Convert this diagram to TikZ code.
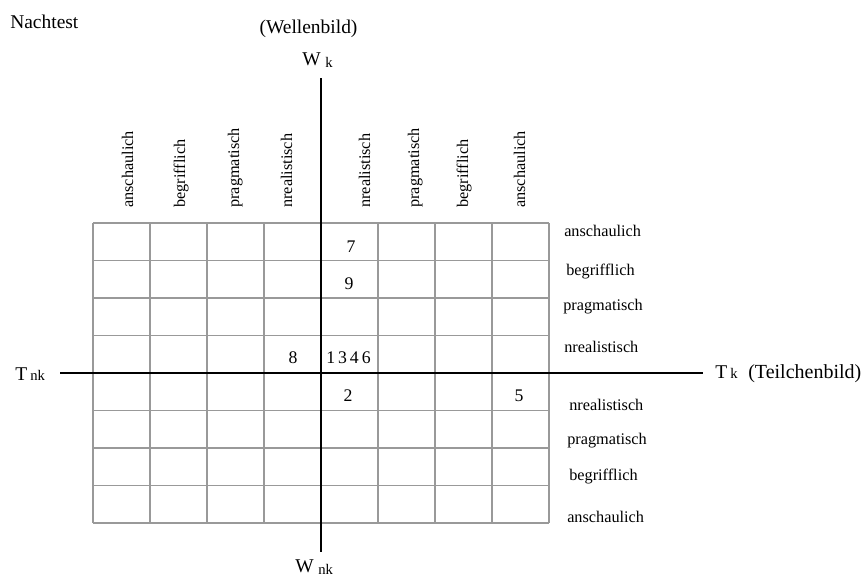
\documentclass[tikz,border=0pt]{standalone}
\usepackage{fontspec}
\setmainfont{Liberation Serif}
\begin{document}
\begin{tikzpicture}[x=0.75pt,y=-0.75pt,
  big/.style={font=\fontsize{14.6}{16}\selectfont, inner sep=0pt, anchor=base west},
  sub/.style={font=\fontsize{11}{13}\selectfont, inner sep=0pt, anchor=base west},
  lab/.style={font=\fontsize{12.2}{14}\selectfont, inner sep=0pt, anchor=base west},
  collab/.style={lab, rotate=90},
  num/.style={font=\fontsize{13.3}{15}\selectfont, inner sep=0pt, anchor=base},
  gridline/.style={draw=black!40, line width=1pt},
  axis/.style={draw=black, line width=1.1pt}]
\useasboundingbox (0,0) rectangle (866,576);

% table grid: 8 columns x 8 rows
\foreach \x in {93,150,...,549}
  \draw[gridline] (\x,223) -- (\x,523);
\foreach \y in {223,260.5,298,335.5,373,410.5,448,485.5,523}
  \draw[gridline] (93,\y) -- (549,\y);

% axis ends
\coordinate (wtop) at (321,78);
\coordinate (wbot) at (321,552);
\coordinate (tleft) at (60,373);
\coordinate (tright) at (703,373);
\draw[axis] (wtop) -- (wbot);
\draw[axis] (tleft) -- (tright);

% titles and axis labels
\node[big] (title) at (10,28) {Nachtest};
\node[big, anchor=base] (wave) at (308.5,33) {(Wellenbild)};
\node[big] (Wk) at (302,65) {W};
\node[sub] (Wksub) at (325,67) {k};
\node[big] (Wnk) at (295,572) {W};
\node[sub] (Wnksub) at (318,574) {nk};
\node[big] (Tnk) at (15,380) {T};
\node[sub] (Tnksub) at (30,380) {nk};
\node[big] (Tk) at (715,378) {T};
\node[sub] (Tksub) at (730,378) {k};
\node[big, font=\fontsize{15}{17}\selectfont] (particle) at (748,378) {(Teilchenbild)};

% column headings
\node[collab] (c1) at (133,208) {anschaulich};
\node[collab] (c2) at (185,208) {begrifflich};
\node[collab] (c3) at (239,208) {pragmatisch};
\node[collab] (c4) at (292,208) {nrealistisch};
\node[collab] (c5) at (370,208) {nrealistisch};
\node[collab] (c6) at (419,208) {pragmatisch};
\node[collab] (c7) at (468,208) {begrifflich};
\node[collab] (c8) at (525,208) {anschaulich};

% row headings
\node[lab] (r1) at (564,236) {anschaulich};
\node[lab] (r2) at (566,275) {begrifflich};
\node[lab] (r3) at (563,310) {pragmatisch};
\node[lab] (r4) at (564,352) {nrealistisch};
\node[lab] (r5) at (569,410) {nrealistisch};
\node[lab] (r6) at (567,444) {pragmatisch};
\node[lab] (r7) at (569,480) {begrifflich};
\node[lab] (r8) at (567,522) {anschaulich};

% entries
\node[num] (n7) at (351,252) {7};
\node[num] (n9) at (349,289) {9};
\node[num] (n1346) at (348.5,363) {1\,3\,4\,6};
\node[num] (n8) at (293,363) {8};
\node[num] (n2) at (348,401) {2};
\node[num] (n5) at (519,401) {5};
\end{tikzpicture}
\end{document}
